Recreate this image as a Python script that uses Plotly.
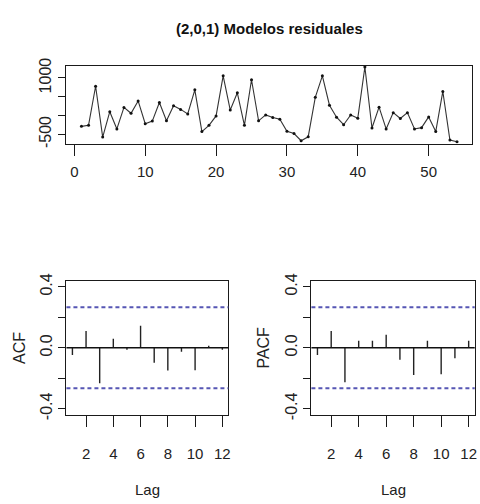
import plotly.graph_objects as go

# ---------------- data ----------------
t_index = list(range(1, 55))
residuals = [-286, -260, 780, -572, 104, -355, 217, 61, 390, -217,
             -147, 347, -139, 260, 165, 43, 685, -425, -260, -9,
             1058, 147, 607, -260, 954, -139, 17, -52, -95, -416,
             -477, -668, -564, 486, 1058, 277, -43, -243, 17, -69,
             1292, -329, 225, -355, 78, -78, 78, -355, -321, -35,
             -425, 642, -650, -694]

lags = list(range(1, 13))
acf_vals = [-0.047, 0.111, -0.232, 0.060, -0.013, 0.145, -0.098, -0.149,
            -0.026, -0.147, 0.013, -0.013]
pacf_vals = [-0.047, 0.111, -0.226, 0.047, 0.047, 0.085, -0.079, -0.179,
             0.047, -0.174, -0.068, 0.047]
ci_bound = 0.266

top_xticks = [0, 10, 20, 30, 40, 50]
top_yticks = [-500, 0, 500, 1000]
top_yticktext = ["-500", "", "", "1000"]
cf_xticks = [2, 4, 6, 8, 10, 12]
cf_yticks = [-0.4, -0.2, 0.0, 0.2, 0.4]
cf_yticktext = ["-0.4", "", "0.0", "", "0.4"]

title_text = "(2,0,1) Modelos residuales"
acf_label = "ACF"
pacf_label = "PACF"
lag_label = "Lag"

# ---------------- styling ----------------
W, H = 480, 504
FONT = "Liberation Sans, Arial, sans-serif"
AX = "#1a1a1a"
CI_COL = "#5656b4"


def px_x(p):
    return p / W


def px_y(p):
    return 1 - p / H


def stems(xs, ys):
    sx, sy = [], []
    for a, b in zip(xs, ys):
        sx += [a, a, None]
        sy += [0, b, None]
    return sx, sy


fig = go.Figure()

fig.add_trace(go.Scatter(
    x=t_index, y=residuals, mode="lines+markers",
    line=dict(color="#333333", width=1.1),
    marker=dict(color="#111111", size=3),
    xaxis="x", yaxis="y", showlegend=False, hoverinfo="skip"))

ax, ay = stems(lags, acf_vals)
fig.add_trace(go.Scatter(x=ax, y=ay, mode="lines",
                         line=dict(color="#222222", width=1.4),
                         xaxis="x2", yaxis="y2", showlegend=False, hoverinfo="skip"))
pxs, pys = stems(lags, pacf_vals)
fig.add_trace(go.Scatter(x=pxs, y=pys, mode="lines",
                         line=dict(color="#222222", width=1.4),
                         xaxis="x3", yaxis="y3", showlegend=False, hoverinfo="skip"))

common_x = dict(showline=True, mirror=True, linecolor=AX, linewidth=1.3,
                ticks="outside", ticklen=11, tickwidth=1.2, tickcolor=AX,
                showgrid=False, zeroline=False,
                tickfont=dict(family=FONT, size=15, color="#222222"))
common_y = dict(showline=True, mirror=True, linecolor=AX, linewidth=1.3,
                ticks="outside", ticklen=7, tickwidth=1.2, tickcolor=AX,
                showgrid=False, zeroline=False, tickangle=-90,
                tickfont=dict(family=FONT, size=16, color="#222222"))

top_dom_x = [px_x(66.7), px_x(474)]
top_dom_y = [px_y(139.3), px_y(59.5)]
acf_dom_x = [px_x(66.7), px_x(229.3)]
pacf_dom_x = [px_x(312.7), px_x(476.7)]
cf_dom_y = [px_y(417.6), px_y(280)]

fig.update_layout(
    width=W, height=H,
    margin=dict(l=0, r=0, t=0, b=0),
    paper_bgcolor="white", plot_bgcolor="white",
    xaxis=dict(domain=top_dom_x, anchor="y", range=[-1.12, 56.12],
               tickmode="array", tickvals=top_xticks, ticklabelstandoff=3,
               **common_x),
    yaxis=dict(domain=top_dom_y, anchor="x", range=[-748, 1320],
               tickmode="array", tickvals=top_yticks, ticktext=top_yticktext,
               ticklabelstandoff=1, **common_y),
    xaxis2=dict(domain=acf_dom_x, anchor="y2", range=[0.56, 12.44],
                tickmode="array", tickvals=cf_xticks, ticklabelstandoff=14,
                **common_x),
    yaxis2=dict(domain=cf_dom_y, anchor="x2", range=[-0.44, 0.44],
                tickmode="array", tickvals=cf_yticks, ticktext=cf_yticktext,
                ticklabelstandoff=0, **common_y),
    xaxis3=dict(domain=pacf_dom_x, anchor="y3", range=[0.56, 12.44],
                tickmode="array", tickvals=cf_xticks, ticklabelstandoff=14,
                **common_x),
    yaxis3=dict(domain=cf_dom_y, anchor="x3", range=[-0.44, 0.44],
                tickmode="array", tickvals=cf_yticks, ticktext=cf_yticktext,
                ticklabelstandoff=0, **common_y),
)

shapes = []
for xr, yr in (("x2", "y2"), ("x3", "y3")):
    shapes.append(dict(type="line", xref=xr + " domain", yref=yr,
                       x0=0, x1=1, y0=0, y1=0,
                       line=dict(color="#111111", width=1.4)))
    for b in (ci_bound, -ci_bound):
        shapes.append(dict(type="line", xref=xr + " domain", yref=yr,
                           x0=0, x1=1, y0=b, y1=b,
                           line=dict(color=CI_COL, width=2, dash="4px,3px")))
fig.update_layout(shapes=shapes)

annotations = [
    dict(text="<b>" + title_text + "</b>", x=px_x(270.3), y=px_y(21),
         font=dict(family=FONT, size=15, color="#111111")),
    dict(text=lag_label, x=px_x(148), y=px_y(494),
         font=dict(family=FONT, size=15, color="#222222")),
    dict(text=lag_label, x=px_x(394.7), y=px_y(494),
         font=dict(family=FONT, size=15, color="#222222")),
    dict(text=acf_label, x=px_x(19.3), y=px_y(348.7), textangle=-90,
         font=dict(family=FONT, size=16, color="#222222")),
    dict(text=pacf_label, x=px_x(265), y=px_y(348.7), textangle=-90,
         font=dict(family=FONT, size=16, color="#222222")),
]
for a in annotations:
    a.update(xref="paper", yref="paper", showarrow=False,
             xanchor="center", yanchor="middle")
fig.update_layout(annotations=annotations)

fig.write_html("out.html", config={"displayModeBar": False},
               post_script="document.body.style.margin='0';")
